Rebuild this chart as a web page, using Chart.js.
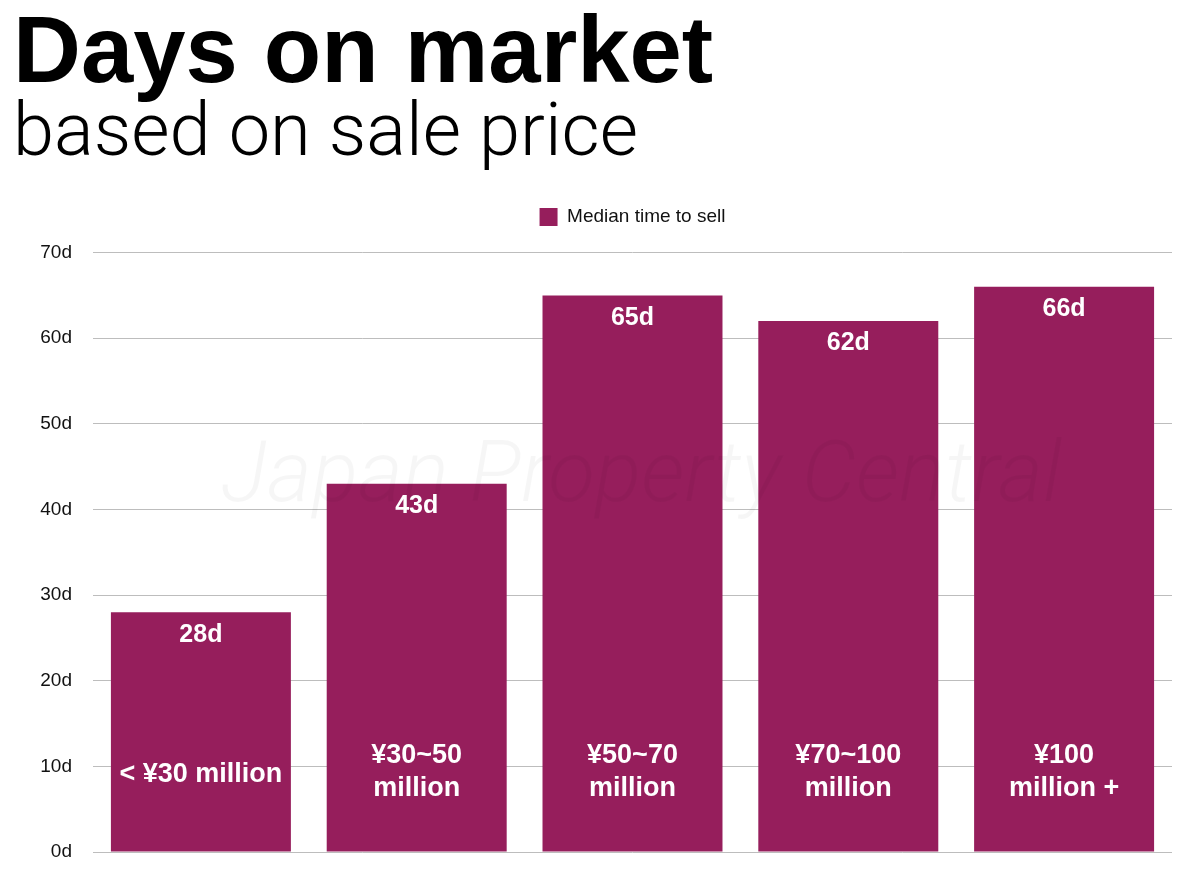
<!DOCTYPE html>
<html>
<head>
<meta charset="utf-8">
<script src="https://cdn.jsdelivr.net/npm/chart.js@4.4.0/dist/chart.umd.min.js"></script>
<style>
html,body{margin:0;padding:0;background:#ffffff;}
#wrap{width:1200px;height:872px;position:relative;}
</style>
</head>
<body>
<div id="wrap"><canvas id="c" width="1200" height="872"></canvas></div>
<script>
// ---- data ----
const categories = [
  ["< ¥30 million"],
  ["¥30~50", "million"],
  ["¥50~70", "million"],
  ["¥70~100", "million"],
  ["¥100", "million +"]
];
const medianDays = [28, 43, 65, 62, 66];
const seriesName = "Median time to sell";
const yMin = 0, yMax = 70, yStep = 10;
const tickSuffix = "d";
const titleText = "Days on market";
const subtitleText = "based on sale price";
const watermarkText = "Japan Property Central";

const BAR = "#961e5c";
const SANS = "'Liberation Sans', Arial, Helvetica, sans-serif";

const layoutTweaks = {
  id: "layoutTweaks",
  beforeLayout(chart) {
    const lg = chart.legend;
    if (lg && !lg._patched) {
      const f = lg.fit;
      lg.fit = function () { f.call(this); this.height += 16; };
      lg._patched = true;
    }
  },
  afterLayout(chart) {
    const lg = chart.legend, ca = chart.chartArea;
    if (!lg || !ca) return;
    const dx = (ca.left + ca.right) / 2 - (lg.left + lg.right) / 2;
    lg.left += dx; lg.right += dx;
  }
};

const barText = {
  id: "barText",
  afterDatasetsDraw(chart) {
    const ctx = chart.ctx, ca = chart.chartArea, ys = chart.scales.y;
    // faint watermark
    ctx.save();
    ctx.font = "italic 300 86px Roboto, sans-serif";
    ctx.fillStyle = "rgba(0,0,0,0.035)";
    ctx.textAlign = "center";
    ctx.textBaseline = "middle";
    ctx.fillText(watermarkText, (ca.left + ca.right) / 2 + 9, ys.getPixelForValue(43.5));
    ctx.restore();

    const meta = chart.getDatasetMeta(0);
    const base = ys.getPixelForValue(0);
    ctx.save();
    ctx.fillStyle = "#ffffff";
    ctx.textAlign = "center";
    ctx.textBaseline = "middle";
    meta.data.forEach((bar, i) => {
      ctx.font = "bold 25px " + SANS;
      ctx.fillText(medianDays[i] + tickSuffix, bar.x, bar.y + 22.5);
      ctx.font = "bold 27px " + SANS;
      const lines = categories[i];
      if (lines.length === 1) {
        ctx.fillText(lines[0], bar.x, base - 77.5);
      } else {
        lines.forEach((t, j) => ctx.fillText(t, bar.x, base - 96.5 + j * 33));
      }
    });
    ctx.restore();
  }
};

function draw() {
  new Chart(document.getElementById("c"), {
    type: "bar",
    data: {
      labels: categories,
      datasets: [{
        label: seriesName,
        data: medianDays,
        backgroundColor: BAR,
        borderColor: BAR,
        borderWidth: 0,
        categoryPercentage: 1.0,
        barPercentage: 0.834
      }]
    },
    options: {
      responsive: false,
      animation: false,
      devicePixelRatio: 1,
      layout: { padding: { left: 13, right: 28, top: 0, bottom: 20 } },
      plugins: {
        title: {
          display: true, text: titleText, align: "start", color: "#000",
          font: { family: SANS, size: 94, weight: "bold", lineHeight: 0.9 },
          padding: { top: 14, bottom: 0 }
        },
        subtitle: {
          display: true, text: subtitleText, align: "start", color: "#000",
          font: { family: "Roboto, sans-serif", size: 74, weight: 300, lineHeight: 1 },
          padding: { top: 1, bottom: 24 }
        },
        legend: {
          display: true, position: "top", align: "center",
          labels: {
            boxWidth: 18, boxHeight: 18, padding: 10, color: "#111",
            font: { family: SANS, size: 19 }
          }
        },
        tooltip: { enabled: false }
      },
      scales: {
        x: { display: false, grid: { display: false } },
        y: {
          min: yMin, max: yMax,
          afterFit(s) { s.width = 80; },
          border: { display: false },
          grid: { color: "#bdbdbd", lineWidth: 1, drawTicks: true, tickLength: 21, tickColor: "rgba(0,0,0,0)" },
          ticks: {
            stepSize: yStep, padding: 0, color: "#111",
            font: { family: SANS, size: 19 },
            callback: v => v + tickSuffix
          }
        }
      }
    },
    plugins: [layoutTweaks, barText]
  });
}

Promise.all([
  document.fonts.load("300 74px Roboto"),
  document.fonts.load("italic 300 86px Roboto"),
  document.fonts.load("bold 94px 'Liberation Sans'"),
  document.fonts.load("19px 'Liberation Sans'")
]).then(draw, draw);
</script>
</body>
</html>
